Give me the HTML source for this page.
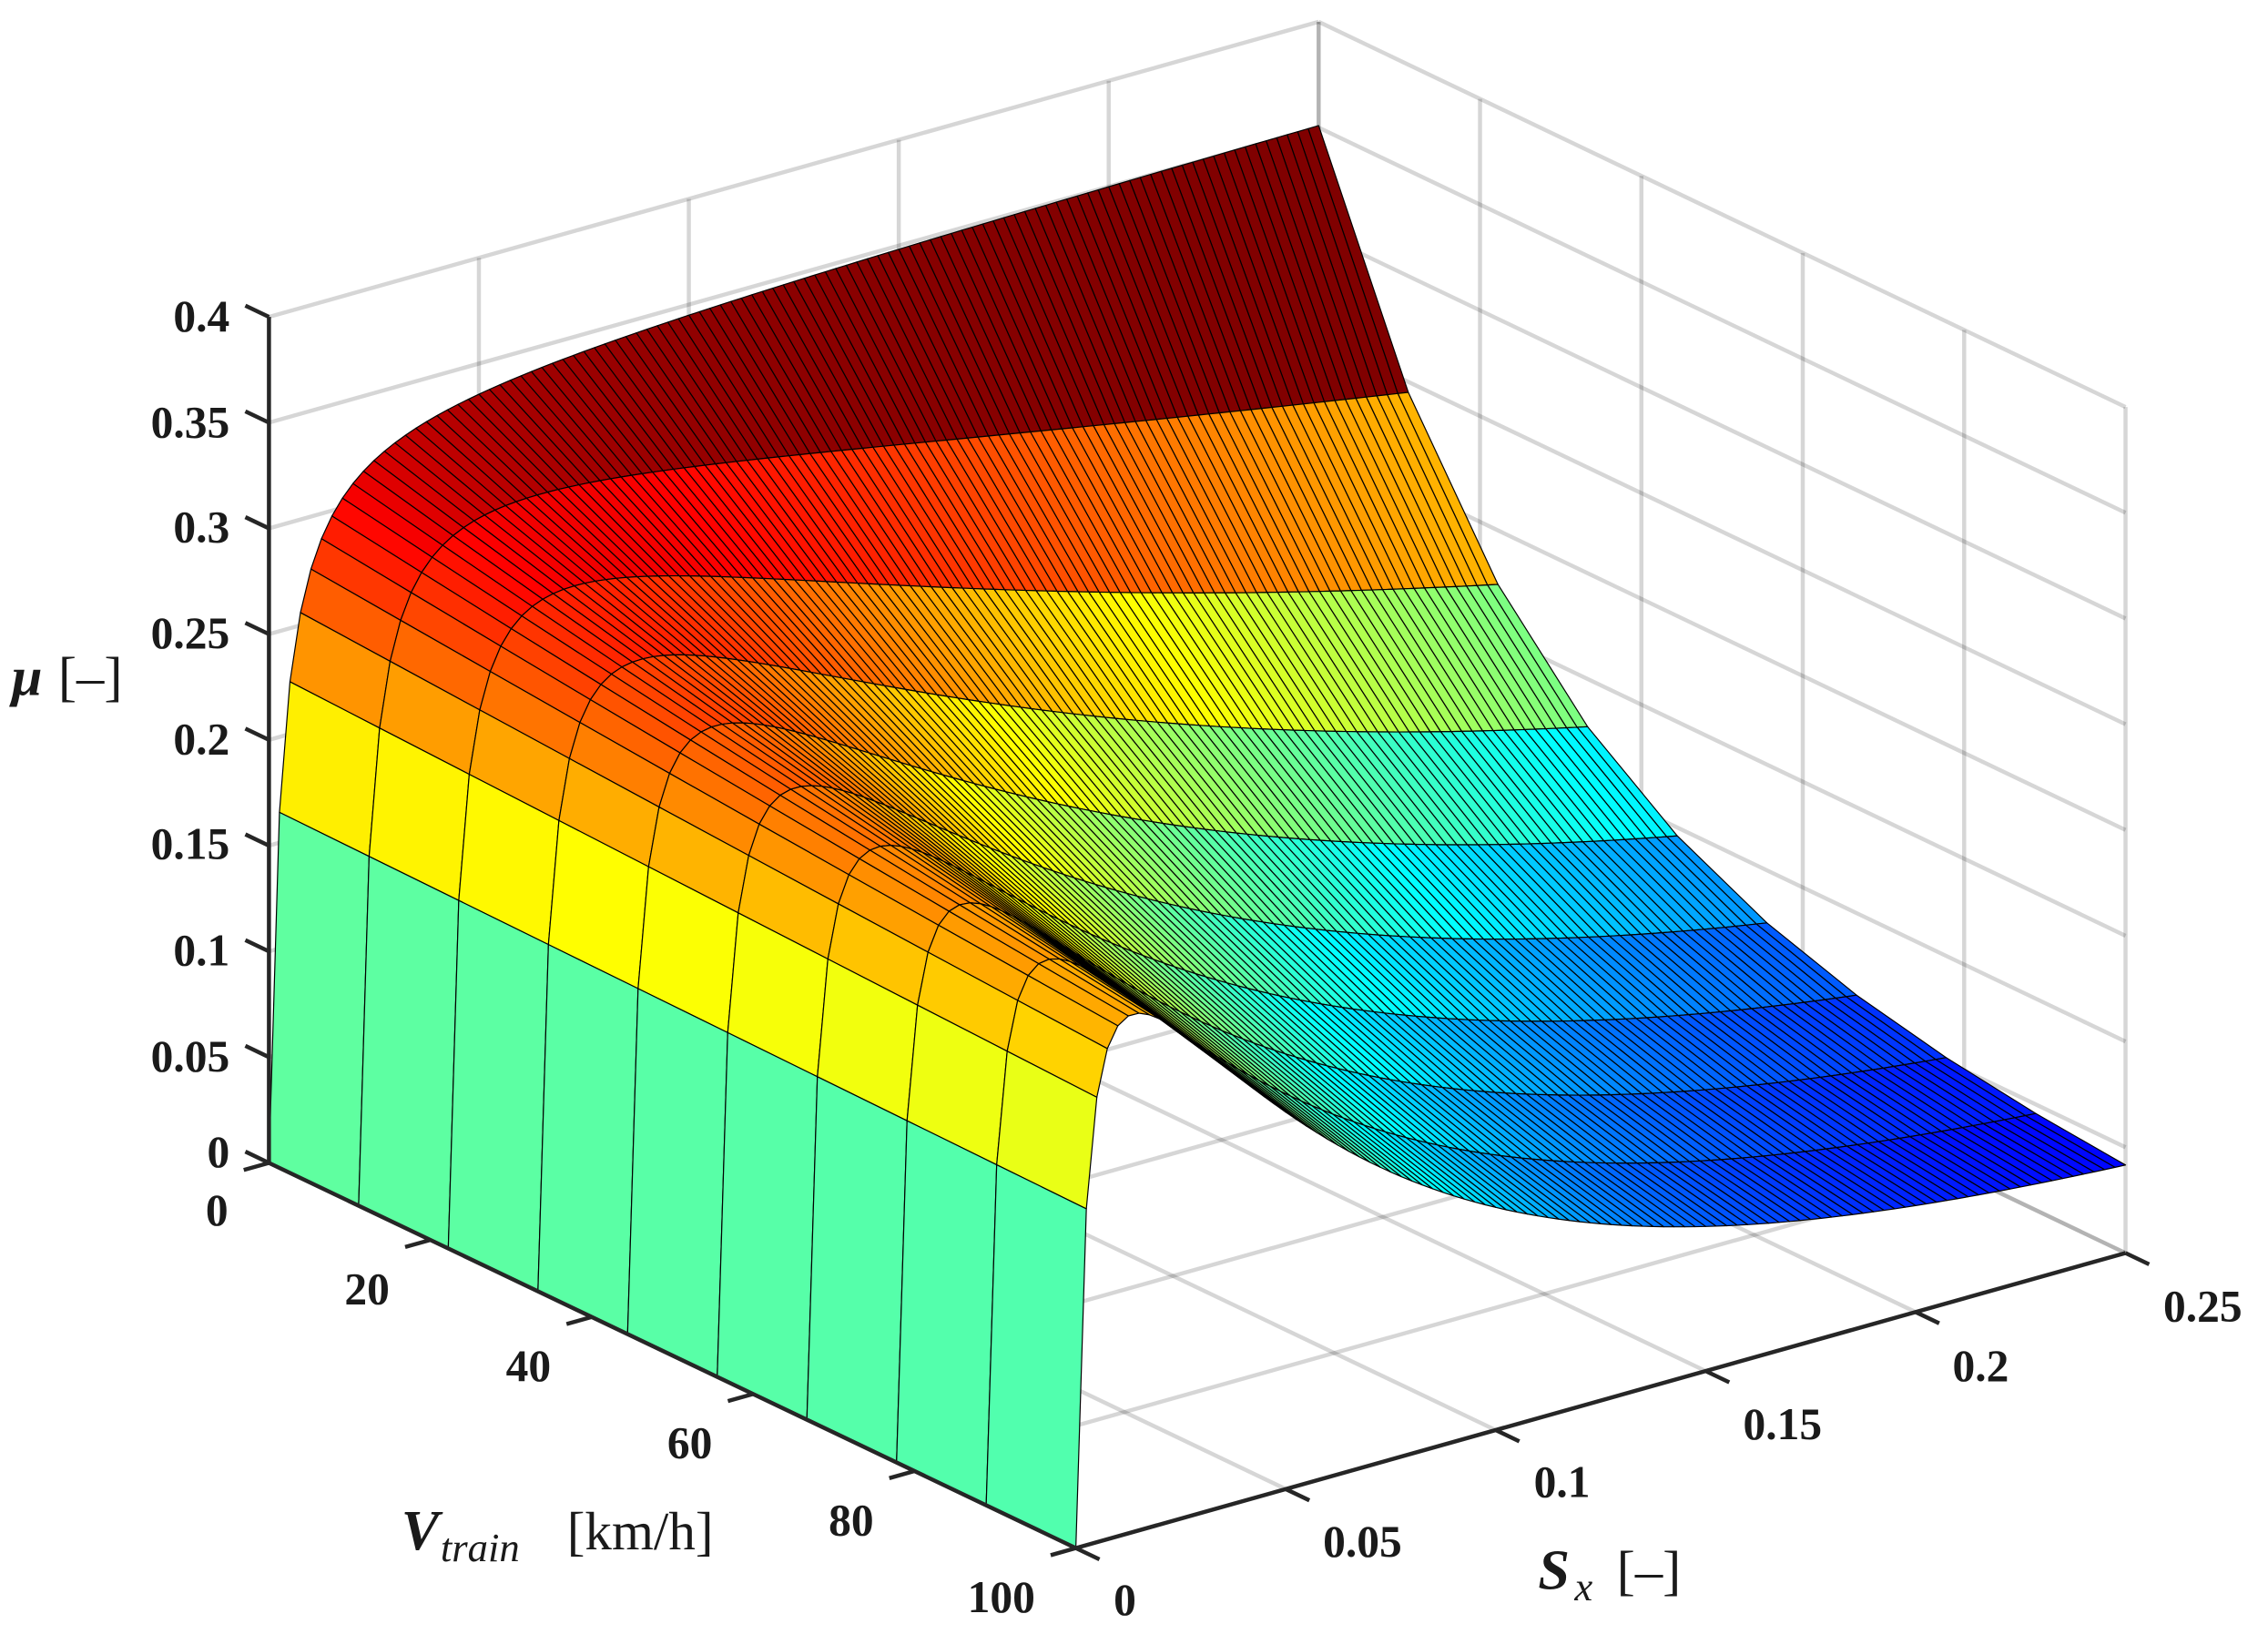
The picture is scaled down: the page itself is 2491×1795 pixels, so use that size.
<!DOCTYPE html>
<html><head><meta charset="utf-8"><style>
html,body{margin:0;padding:0;background:#fff;}
svg{display:block;}
text{font-family:"Liberation Serif",serif;fill:#1a1a1a;}
.t{font-size:31px;font-weight:bold;}
</style></head><body>
<svg id="s" xmlns="http://www.w3.org/2000/svg" width="2491" height="1795" viewBox="0 0 1560 1124.1" preserveAspectRatio="none">
<g id="grid" stroke="#000" stroke-opacity="0.16" stroke-width="2.8" fill="none"></g>
<g id="surf" stroke="#000" stroke-width="0.75" stroke-linejoin="round"></g>
<g id="axes" stroke="#262626" stroke-width="2.8" fill="none"></g>
<g id="labels">
<text class="t" x="158" y="228" text-anchor="end">0.4</text>
<text class="t" x="158" y="301" text-anchor="end">0.35</text>
<text class="t" x="158" y="373" text-anchor="end">0.3</text>
<text class="t" x="158" y="446" text-anchor="end">0.25</text>
<text class="t" x="158" y="519" text-anchor="end">0.2</text>
<text class="t" x="158" y="591" text-anchor="end">0.15</text>
<text class="t" x="158" y="664" text-anchor="end">0.1</text>
<text class="t" x="158" y="737" text-anchor="end">0.05</text>
<text class="t" x="158" y="803" text-anchor="end">0</text>
<text class="t" x="157" y="843" text-anchor="end">0</text>
<text class="t" x="268" y="897" text-anchor="end">20</text>
<text class="t" x="379" y="950" text-anchor="end">40</text>
<text class="t" x="490" y="1003" text-anchor="end">60</text>
<text class="t" x="601" y="1056" text-anchor="end">80</text>
<text class="t" x="712" y="1109" text-anchor="end">100</text>
<text class="t" x="766" y="1111">0</text>
<text class="t" x="910" y="1071">0.05</text>
<text class="t" x="1055" y="1030">0.1</text>
<text class="t" x="1199" y="990">0.15</text>
<text class="t" x="1343" y="950">0.2</text>
<text class="t" x="1488" y="909">0.25</text>
<text x="8" y="478" style="font-size:38px;font-style:italic;font-weight:bold">μ</text>
<text x="40" y="478" style="font-size:38px">[–]</text>
<text x="276" y="1066" style="font-size:39px;font-style:italic;font-weight:bold">V</text>
<text x="303" y="1074" style="font-size:28px;font-style:italic">train</text>
<text x="390" y="1066" style="font-size:37px">[km/h]</text>
<text x="1058" y="1093" style="font-size:39px;font-style:italic;font-weight:bold">S</text>
<text x="1083" y="1101" style="font-size:28px;font-style:italic">x</text>
<text x="1112" y="1093" style="font-size:38px">[–]</text>
</g>
</svg>
<script>
(function(){
function P(s,v,z){return [185+v*5.55+s*2888, 800+v*2.65-s*812-z*1455];}
function f(p){return p[0].toFixed(2)+','+p[1].toFixed(2);}
function line(a,b){return '<line x1="'+a[0].toFixed(2)+'" y1="'+a[1].toFixed(2)+'" x2="'+b[0].toFixed(2)+'" y2="'+b[1].toFixed(2)+'"/>';}
var g='';
var zt=[0,0.05,0.1,0.15,0.2,0.25,0.3,0.35,0.4];
var st=[0,0.05,0.1,0.15,0.2,0.25];
var vt=[0,20,40,60,80,100];
st.forEach(function(s){g+=line(P(s,0,0),P(s,100,0));});
vt.forEach(function(v){g+=line(P(0,v,0),P(0.25,v,0));});
st.forEach(function(s){g+=line(P(s,0,0),P(s,0,0.4));});
zt.forEach(function(z){g+=line(P(0,0,z),P(0.25,0,z));});
vt.forEach(function(v){g+=line(P(0.25,v,0),P(0.25,v,0.4));});
zt.forEach(function(z){g+=line(P(0.25,0,z),P(0.25,100,z));});
document.getElementById('grid').innerHTML=g;
var A=0.095,B=0.146,C=0.0029,M0=0.355;
function mu(s,v){return M0*(A+(1-A)*Math.exp(-B*s*v))*s/(s+C);}
var NS=101,NV=10,S=[],V=[];
for(var i=0;i<NS;i++)S.push(0.25*i/(NS-1));
for(var j=0;j<NV;j++)V.push(100*j/(NV-1));
var Z=[],cmax=0;
for(i=0;i<NS;i++){Z.push([]);for(j=0;j<NV;j++){var z=mu(S[i],V[j]);Z[i].push(z);if(z>cmax)cmax=z;}}
function cl(x){return Math.max(0,Math.min(1,x));}
function jet(x){x=cl(x);var r=cl(Math.min(4*x-1.5,-4*x+4.5)),gg=cl(Math.min(4*x-0.5,-4*x+3.5)),b=cl(Math.min(4*x+0.5,-4*x+2.5));
return 'rgb('+Math.round(r*255)+','+Math.round(gg*255)+','+Math.round(b*255)+')';}
var cells=[];
for(i=0;i<NS-1;i++)for(j=0;j<NV-1;j++){
 var a=(V[j]+V[j+1])/200,bb=(S[i]+S[i+1])/0.5;
 cells.push({d:0.793*a-0.609*bb,i:i,j:j});
}
cells.sort(function(p,q){return p.d-q.d;});
var h='';
cells.forEach(function(c){var i=c.i,j=c.j;
 var p1=P(S[i],V[j],Z[i][j]),p2=P(S[i+1],V[j],Z[i+1][j]),p3=P(S[i+1],V[j+1],Z[i+1][j+1]),p4=P(S[i],V[j+1],Z[i][j+1]);
 h+='<path d="M'+f(p1)+'L'+f(p2)+'L'+f(p3)+'L'+f(p4)+'Z" fill="'+jet(Z[i+1][j]/cmax)+'"/>';
});
document.getElementById('surf').innerHTML=h;
var ax='';
ax+=line(P(0,0,0),P(0,0,0.4));
ax+=line(P(0,0,0),P(0,100,0));
ax+=line(P(0,100,0),P(0.25,100,0));
var tl=18;
zt.forEach(function(z){var p=P(0,0,z);ax+=line(p,[p[0]-tl*0.902,p[1]-tl*0.431]);});
vt.forEach(function(v){var p=P(0,v,0);ax+=line(p,[p[0]-tl*0.963,p[1]+tl*0.271]);});
st.forEach(function(s){var p=P(s,100,0);ax+=line(p,[p[0]+tl*0.902,p[1]+tl*0.431]);});
document.getElementById('axes').innerHTML=ax;
})();
</script>
</body></html>
